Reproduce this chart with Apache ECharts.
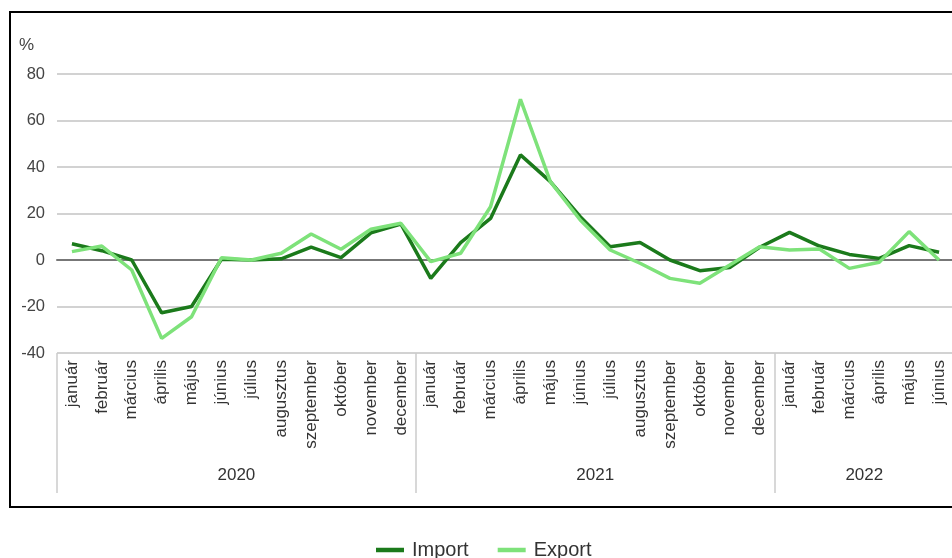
<!DOCTYPE html>
<html>
<head>
<meta charset="utf-8">
<script src="https://cdn.jsdelivr.net/npm/echarts@6/dist/echarts.min.js"></script>
<style>
html,body{margin:0;padding:0;overflow:hidden;background:#fff;}
#chart{width:960px;height:558px;}
</style>
</head>
<body>
<div id="chart"></div>
<script>
const months = ['január','február','március','április','május','június','július','augusztus','szeptember','október','november','december'];
const categories = [].concat(months, months, months.slice(0, 6));
const years = ['2020', '2021', '2022'];
const yearSpans = [12, 12, 6];
const importValues = [7, 4, 0, -22.7, -20, 0.3, 0, 0.5, 5.5, 1, 11.7, 15.5,
  -7.9, 7.5, 17.9, 45.2, 33.7, 18.6, 5.7, 7.5, 0, -4.6, -3.2, 5.5,
  11.9, 6, 2.4, 0.7, 6.2, 3.3];
const exportValues = [3.6, 6, -4.3, -33.7, -24.4, 1, 0, 2.9, 11.2, 4.6, 13.2, 15.8,
  -0.7, 2.9, 22.9, 69.1, 33.7, 17.2, 4.3, -1.4, -7.9, -10, -2.2, 5.7,
  4.3, 4.7, -3.6, -1, 12.2, 0];
const yTicks = [-40, -20, 0, 20, 40, 60, 80];

// year axis built on half-month steps (boundaryGap false)
const halfSteps = categories.length * 2;
const yearAxisData = [];
const yearLabelIdx = {};
const yearTickIdx = {0: true};
let acc = 0;
years.forEach((y, i) => {
  yearLabelIdx[(acc + yearSpans[i] / 2) * 2] = y;
  acc += yearSpans[i];
  yearTickIdx[acc * 2] = true;
});
for (let i = 0; i <= halfSteps; i++) yearAxisData.push(yearLabelIdx[i] || '');

const font = 'Liberation Sans, Arial, sans-serif';
const chart = echarts.init(document.getElementById('chart'), null, {renderer: 'canvas'});
chart.setOption({
  animation: false,
  textStyle: {fontFamily: font},
  graphic: [{
    type: 'rect', z: -10, silent: true,
    shape: {x: 10, y: 12, width: 1000, height: 495},
    style: {fill: 'none', stroke: '#000', lineWidth: 2}
  }],
  legend: {
    data: ['Import', 'Export'],
    bottom: -7, left: 371,
    icon: 'rect', itemWidth: 28, itemHeight: 4.5, itemGap: 29,
    textStyle: {fontSize: 20, color: '#333', fontFamily: font, padding: [0, 0, 0, 3]}
  },
  grid: {left: 57, right: 6, top: 74, bottom: 205, containLabel: false},
  xAxis: [{
    type: 'category', data: categories, boundaryGap: true,
    axisLine: {lineStyle: {color: '#777', width: 2}},
    axisTick: {interval: 0, length: 105, lineStyle: {color: '#ccc', width: 2}},
    axisLabel: {interval: 0, rotate: 90, margin: 7, fontSize: 17, color: '#333', fontFamily: font}
  }, {
    type: 'category', data: yearAxisData, boundaryGap: false, position: 'bottom',
    axisLine: {show: false},
    axisTick: {show: true, interval: (idx) => !!yearTickIdx[idx], length: 140, lineStyle: {color: '#ccc', width: 1.5}},
    axisLabel: {interval: (idx, v) => v !== '', margin: 114, fontSize: 17, color: '#333', fontFamily: font},
    splitLine: {show: false}
  }],
  yAxis: {
    type: 'value', min: -40, max: 80, interval: 20,
    name: '%', nameLocation: 'end', nameGap: 20,
    nameTextStyle: {align: 'right', padding: [0, 23, 0, 0], fontSize: 17, color: '#444', fontFamily: font},
    axisLine: {show: false}, axisTick: {show: false},
    axisLabel: {margin: 12, fontSize: 16.5, color: '#444', fontFamily: font},
    splitLine: {lineStyle: {color: yTicks.map(v => v === 0 ? '#8c8c8c' : '#d2d2d2'), width: 2}}
  },
  series: [{
    name: 'Import', type: 'line', data: importValues, xAxisIndex: 0,
    symbol: 'none', lineStyle: {width: 3.5, color: '#1b7a1b'}, itemStyle: {color: '#1b7a1b'}
  }, {
    name: 'Export', type: 'line', data: exportValues, xAxisIndex: 0,
    symbol: 'none', lineStyle: {width: 3.5, color: '#7ee27a'}, itemStyle: {color: '#7ee27a'}
  }]
});
</script>
</body>
</html>
